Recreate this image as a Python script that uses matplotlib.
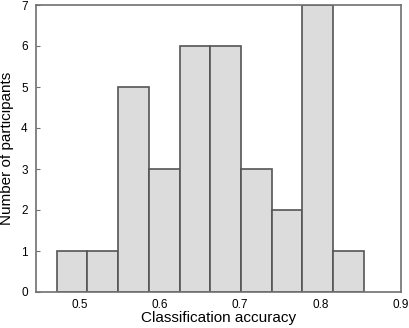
import matplotlib
matplotlib.use("Agg")
import matplotlib.pyplot as plt

# bin edges and counts
bordes = [0.4717, 0.5099, 0.5481, 0.5863, 0.6245, 0.6627, 0.7009, 0.7391, 0.7773, 0.8155, 0.8537]
conteos = [1, 1, 5, 3, 6, 6, 3, 2, 7, 1]
xticks = [0.5, 0.6, 0.7, 0.8, 0.9]
yticks = [0, 1, 2, 3, 4, 5, 6, 7]

plt.rcParams['font.family'] = ['Liberation Sans', 'DejaVu Sans']

fig = plt.figure(figsize=(4.1, 3.28), dpi=100)
ax = fig.add_axes([36 / 410, 1 - 292 / 328, (401 - 36) / 410, (292 - 5) / 328])

anchos = [bordes[i + 1] - bordes[i] for i in range(len(conteos))]
ax.bar(bordes[:-1], conteos, width=anchos, align='edge',
       color='#dcdcdc', edgecolor='#555555', linewidth=1.2)

ax.set_xlim(0.446, 0.9)
ax.set_ylim(0, 7)
ax.set_xticks(xticks)
ax.set_xticklabels([str(t) for t in xticks])
ax.set_yticks(yticks)

for s in ax.spines.values():
    s.set_color('#707070')
    s.set_linewidth(1.2)

ax.tick_params(axis='x', length=0, labelsize=8.5, pad=5)
ax.tick_params(axis='y', direction='in', length=3, color='#707070', labelsize=8.5, pad=6)

ax.set_xlabel("Classification accuracy", fontsize=11, labelpad=0)
ax.set_ylabel("Number of participants", fontsize=11, labelpad=5)

fig.savefig("out.png", dpi=100)
